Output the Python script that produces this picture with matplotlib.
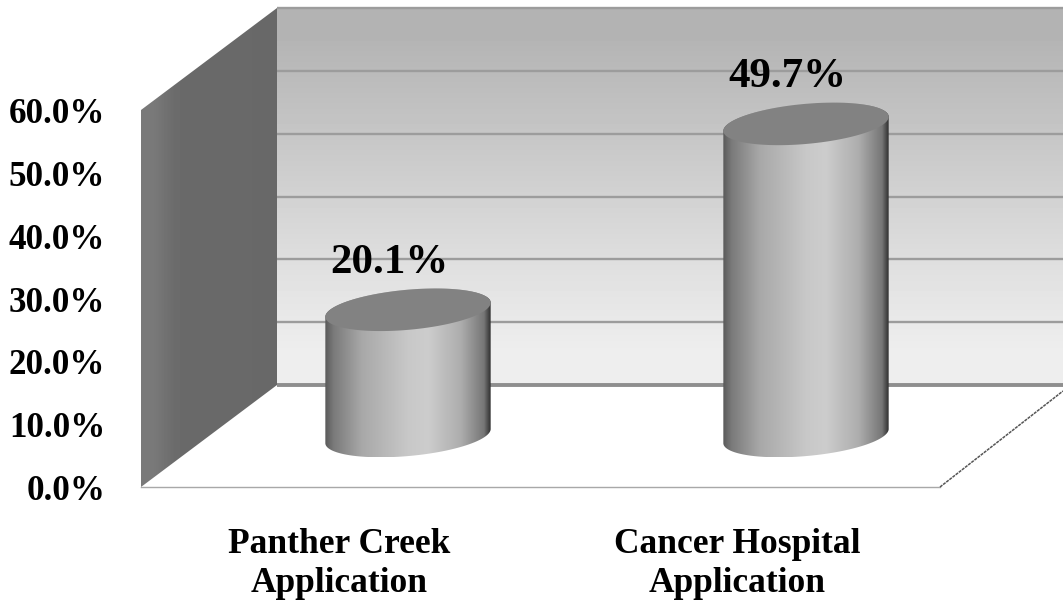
import numpy as np
import matplotlib
matplotlib.use('Agg')
import matplotlib.pyplot as plt
from matplotlib.patches import Polygon
from matplotlib.colors import LinearSegmentedColormap

# valores do grafico
categorias = ['Panther Creek\nApplication', 'Cancer Hospital\nApplication']
valores = [20.1, 49.7]
ticks_y = [0, 10, 20, 30, 40, 50, 60]

plt.rcParams['font.family'] = ['Liberation Serif', 'DejaVu Serif']
plt.rcParams['font.weight'] = 'bold'

# escala: 6.28 px por ponto percentual, 398 px entre categorias
PX_Y = 6.28
PX_X = 398
def fx(px):
    return (px - 408) / PX_X
def fy(py):
    return (385 - py) / PX_Y

fig = plt.figure(figsize=(10.63, 6.05), dpi=100)
ax = fig.add_axes([0, 0, 1, 1])
ax.axis('off')

cinza = LinearSegmentedColormap.from_list('cinza', ['black', 'white'])

def gradiente(valores_cinza, pontos, horizontal=True, zorder=1):
    """Preenche o poligono (em pixels) com um gradiente de cinza."""
    pts = np.array([[fx(x), fy(y)] for x, y in pontos])
    g = np.array(valores_cinza, dtype=float)
    img = g[None, :] if horizontal else g[:, None]
    im = ax.imshow(img, cmap=cinza, vmin=0, vmax=255, aspect='auto', interpolation='bilinear',
                   extent=[pts[:, 0].min(), pts[:, 0].max(), pts[:, 1].min(), pts[:, 1].max()],
                   zorder=zorder)
    clip = Polygon(pts, closed=True, transform=ax.transData, fc='none', ec='none')
    ax.add_patch(clip)
    im.set_clip_path(clip)

# parede do fundo e parede lateral
gradiente([180, 192, 204, 216, 228, 238],
          [(277, 8), (1063, 8), (1063, 385), (277, 385)], horizontal=False)
gradiente([122, 107, 105, 105, 105, 104],
          [(141, 110), (277, 8), (277, 385), (141, 487)])

# linhas de grade na parede do fundo
x0, x1 = fx(277), fx(1063)
ax.hlines(ticks_y[1:], x0, x1, color='#9c9c9c', lw=1.7, zorder=2)
ax.hlines(0, x0, x1, color='#8e8e8e', lw=2.8, zorder=2)

# contorno do piso
ax.plot([fx(141), fx(940)], [fy(487), fy(487)], color='#a8a8a8', lw=1.0, zorder=2)
ax.plot([fx(940), fx(1063)], [fy(487), fy(391)], color='#555555', lw=1.1, ls=(0, (2, 0.6)), zorder=2)

# cilindros
A, B = 83, 20
TILT = np.radians(5.2)
BASE = fy(436)
t = np.linspace(0, 2 * np.pi, 241)
ex = A * np.cos(t) * np.cos(TILT) - B * np.sin(t) * np.sin(TILT)
ey = A * np.cos(t) * np.sin(TILT) + B * np.sin(t) * np.cos(TILT)
# t de 180 a 360 graus: metade de baixo da elipse, da esquerda para a direita
baixo = (t >= np.pi) & (t <= 2 * np.pi)
cima = t <= np.pi

corpo = LinearSegmentedColormap.from_list('corpo', [
    (0.0, '#5a5a5a'), (0.05, '#7a7a7a'), (0.22, '#a8a8a8'), (0.5, '#c8c8c8'),
    (0.62, '#cdcdcd'), (0.82, '#adadad'), (0.96, '#767676'), (1.0, '#303030')])
faixa = np.linspace(0, 1, 256)[None, :]

for i, v in enumerate(valores):
    topo = BASE + v
    # corpo: lado esquerdo, curva da base, lado direito, curva do topo
    bx = i + ex[baixo] / PX_X
    by = BASE + ey[baixo] / PX_Y
    tx = i + ex[cima] / PX_X
    ty = topo + ey[cima] / PX_Y
    pts = np.column_stack([np.r_[bx, tx], np.r_[by, ty]])
    im = ax.imshow(faixa, cmap=corpo, vmin=0, vmax=1, aspect='auto', interpolation='bilinear',
                   extent=[pts[:, 0].min(), pts[:, 0].max(), pts[:, 1].min(), pts[:, 1].max()],
                   zorder=3)
    clip = Polygon(pts, closed=True, transform=ax.transData, fc='none', ec='none')
    ax.add_patch(clip)
    im.set_clip_path(clip)
    # tampa
    ax.fill(i + ex / PX_X, topo + ey / PX_Y, color='#828282', lw=0, zorder=4)
    # rotulo de valor
    ax.annotate(f'{v:.1f}%', (i, topo), xytext=(-19, 47), textcoords='offset pixels',
                ha='center', va='center', fontsize=31, zorder=5)

# eixo y (na frente da parede lateral) e categorias
for v in ticks_y:
    ax.text(fx(105), fy(491.5) + v, f'{v:.1f}%', ha='right', va='center', fontsize=25.2, color='black')
for i, c in enumerate(categorias):
    ax.text(i - 69 / PX_X, fy(564), c, ha='center', va='center', fontsize=25.5,
            linespacing=1.25, color='black')

ax.set_xlim(fx(0), fx(1063))
ax.set_ylim(fy(605), fy(0))

fig.savefig('out.png', dpi=100)
